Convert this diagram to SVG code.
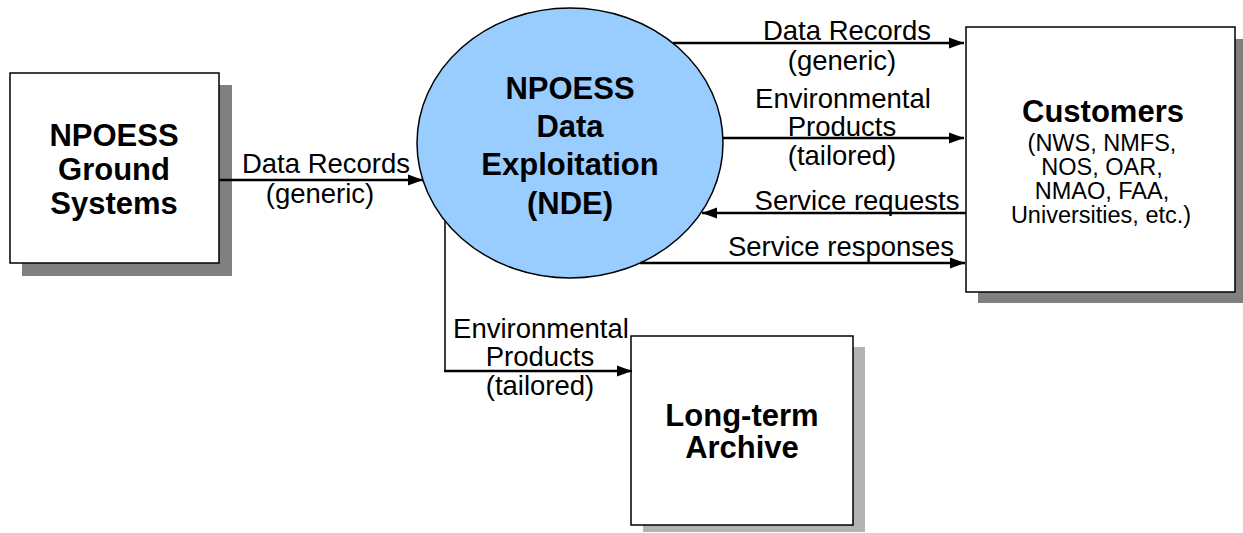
<svg xmlns="http://www.w3.org/2000/svg" width="1243" height="533" viewBox="0 0 1243 533">
<style>
.box{fill:#fff;stroke:#000;stroke-width:1.5}
.sh{fill:#808080}
.sh2{fill:#b3b3b3}
.b{font-family:"Liberation Sans",Arial,sans-serif;font-weight:bold;font-size:31px;text-anchor:middle}
.r{font-family:"Liberation Sans",Arial,sans-serif;font-size:27.5px;text-anchor:middle}
.s{font-family:"Liberation Sans",Arial,sans-serif;font-size:23.5px;text-anchor:middle}
.c{fill:none;stroke:#000;stroke-width:2.5}
.t{fill:none;stroke:#000;stroke-width:1.5}
</style>
<defs>
<marker id="ah" markerUnits="userSpaceOnUse" markerWidth="16" markerHeight="12" refX="15" refY="6" orient="auto">
<path d="M0,0.5 L15,6 L0,11.5 z" fill="#000"/>
</marker>
</defs>
<rect width="1243" height="533" fill="#fff"/>
<g id="ground">
<rect class="sh" x="22" y="85" width="210" height="191"/>
<rect class="box" x="10" y="73" width="209" height="190"/>
<text class="b" x="114" y="146">NPOESS</text>
<text class="b" x="114" y="180">Ground</text>
<text class="b" x="114" y="214">Systems</text>
</g>
<g id="nde">
<ellipse cx="570" cy="143" rx="153" ry="135" fill="#99ccff" stroke="#000" stroke-width="1.5"/>
<text class="b" x="570" y="99">NPOESS</text>
<text class="b" x="570" y="137">Data</text>
<text class="b" x="570" y="175">Exploitation</text>
<text class="b" x="570" y="214">(NDE)</text>
</g>
<g id="customers">
<rect class="sh" x="978" y="39" width="265" height="264"/>
<rect class="box" x="966" y="27" width="269" height="265"/>
<text class="b" x="1103" y="122">Customers</text>
<text class="s" x="1102" y="151">(NWS, NMFS,</text>
<text class="s" x="1102" y="175">NOS, OAR,</text>
<text class="s" x="1102" y="199">NMAO, FAA,</text>
<text class="s" x="1101" y="223">Universities, etc.)</text>
</g>
<g id="archive">
<rect class="sh2" x="643" y="347" width="222" height="185"/>
<rect class="box" x="631" y="336" width="222" height="189"/>
<text class="b" x="742" y="426">Long-term</text>
<text class="b" x="742" y="458">Archive</text>
</g>
<g id="connectors">
<line class="c" x1="219" y1="180" x2="423" y2="180" marker-end="url(#ah)"/>
<line class="c" x1="673" y1="43" x2="964" y2="43" marker-end="url(#ah)"/>
<line class="c" x1="723" y1="138" x2="964" y2="138" marker-end="url(#ah)"/>
<line class="c" x1="966" y1="213" x2="702" y2="213" marker-end="url(#ah)"/>
<line class="c" x1="640" y1="263" x2="965" y2="263" marker-end="url(#ah)"/>
<polyline class="t" points="445,221 445,371 447,371"/>
<line class="c" x1="444" y1="371" x2="632" y2="371" marker-end="url(#ah)"/>
</g>
<g id="labels">
<text class="r" x="326" y="173">Data Records</text>
<text class="r" x="320" y="203">(generic)</text>
<text class="r" x="847" y="40">Data Records</text>
<text class="r" x="842" y="70">(generic)</text>
<text class="r" x="843" y="108">Environmental</text>
<text class="r" x="842" y="136">Products</text>
<text class="r" x="842" y="165">(tailored)</text>
<text class="r" x="857" y="210">Service requests</text>
<text class="r" x="841" y="256">Service responses</text>
<text class="r" x="541" y="338">Environmental</text>
<text class="r" x="540" y="366">Products</text>
<text class="r" x="540" y="395">(tailored)</text>
</g>
</svg>
